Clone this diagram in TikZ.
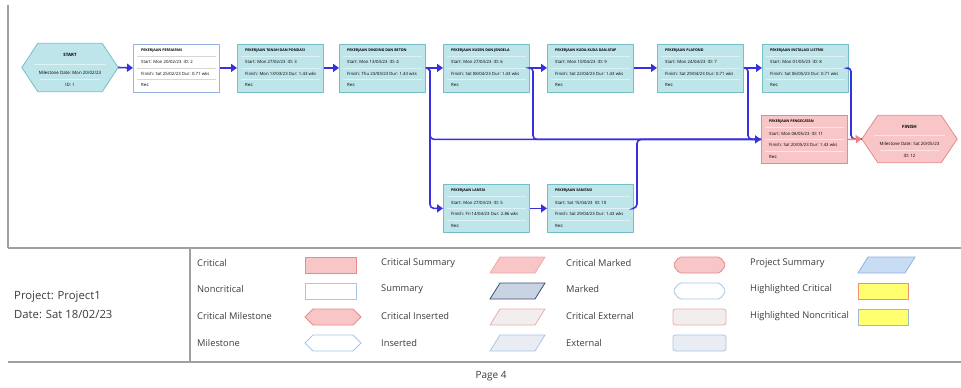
\documentclass[tikz,border=0pt]{standalone}
\usepackage{fontspec}
\setmainfont{Open Sans}
\usetikzlibrary{arrows.meta}
\definecolor{cyanfill}{RGB}{189,229,234}
\definecolor{cyanline}{RGB}{118,190,200}
\definecolor{cyansep}{RGB}{222,242,244}
\definecolor{pinkfill}{RGB}{248,198,198}
\definecolor{pinkline}{RGB}{232,138,138}
\definecolor{pinksep}{RGB}{252,228,228}
\definecolor{ncline}{RGB}{150,180,228}
\definecolor{graysep}{RGB}{215,215,215}
\definecolor{arrowblue}{RGB}{56,48,222}
\definecolor{critred}{RGB}{242,128,128}
\definecolor{framegray}{RGB}{160,160,160}
\definecolor{lgblue}{RGB}{166,198,230}
\definecolor{sumfill}{RGB}{200,212,228}
\definecolor{sumline}{RGB}{62,78,108}
\definecolor{insfill}{RGB}{242,238,238}
\definecolor{insline}{RGB}{240,168,168}
\definecolor{extfill}{RGB}{233,237,243}
\definecolor{psfill}{RGB}{200,220,244}
\definecolor{psline}{RGB}{140,180,228}
\definecolor{hlfill}{RGB}{255,255,112}
\definecolor{hlcrit}{RGB}{240,144,112}
\definecolor{hlnc}{RGB}{160,184,200}
\definecolor{textgray}{RGB}{60,60,60}
\newcommand\taskbox[9]{%
  \node[task, fill=#4, draw=#5, anchor=north west] (#1) at (#2,#3) {};
  \node[ttl] (#1-t) at ([shift={(8,7)}]#1.north west) {#6};
  \draw[draw=#9, line width=0.6pt] ([shift={(4,12.5)}]#1.north west) -- ([shift={(-4,12.5)}]#1.north east);
  \node[txt] (#1-s) at ([shift={(8,18.5)}]#1.north west) {#7};
  \draw[draw=#9, line width=0.6pt] ([shift={(4,24.5)}]#1.north west) -- ([shift={(-4,24.5)}]#1.north east);
  \node[txt] (#1-f) at ([shift={(8,30)}]#1.north west) {#8};
  \draw[draw=#9, line width=0.6pt] ([shift={(4,36)}]#1.north west) -- ([shift={(-4,36)}]#1.north east);
  \node[txt] (#1-r) at ([shift={(8,41.5)}]#1.north west) {Res:};
}
\tikzset{
  task/.style={rectangle, minimum width=86pt, minimum height=48pt, inner sep=0pt, line width=0.8pt},
  ttl/.style={anchor=west, inner sep=0pt, font=\fontsize{3.6}{4}\selectfont\bfseries},
  txt/.style={anchor=west, inner sep=0pt, font=\fontsize{4.3}{5}\selectfont},
  hexcore/.style={rectangle, minimum width=64pt, minimum height=48pt, inner sep=0pt},
  conn/.style={draw=arrowblue, line width=1.6pt, rounded corners=4pt, -{Triangle[length=6pt,width=8pt]}},
  connplain/.style={draw=arrowblue, line width=1.6pt, rounded corners=4pt},
  critconn/.style={draw=critred, line width=1.6pt, -{Triangle[length=6pt,width=8pt]}},
  frame/.style={draw=framegray, line width=1.3pt},
  lgtxt/.style={anchor=west, inner sep=0pt, font=\fontsize{9.3}{11}\selectfont, text=textgray},
}
\begin{document}
\begin{tikzpicture}[x=1pt, y=-1pt]
\useasboundingbox (0,0) rectangle (961,388);
\fill[white] (0,0) rectangle (961,388);
% frame
\draw[frame] (8,5) -- (8,248);
\draw[frame] (8,248) -- (961,248);
\draw[frame] (8,362) -- (961,362);
\draw[frame] (190,248) -- (190,362);
% START hexagon
\node[hexcore] (start) at (70,67.5) {};
\coordinate (start-l) at ([xshift=-16pt]start.west);
\coordinate (start-r) at ([xshift=16pt]start.east);
\filldraw[fill=cyanfill, draw=cyanline, line width=0.8pt] (start.north west) -- (start.north east) -- (start-r) -- (start.south east) -- (start.south west) -- (start-l) -- cycle;
\node[inner sep=0pt, font=\fontsize{4.4}{5}\selectfont\bfseries] (start-t) at (70,55) {START};
\draw[cyansep, line width=0.6pt] (34,64) -- (106,64);
\node[inner sep=0pt, font=\fontsize{4.4}{5}\selectfont] (start-m) at (70,73) {Milestone Date: Mon 20/02/23};
\draw[cyansep, line width=0.6pt] (40,79) -- (100,79);
\node[inner sep=0pt, font=\fontsize{4.4}{5}\selectfont] (start-i) at (70,85) {ID: 1};
% FINISH hexagon
\node[hexcore, minimum height=47pt, minimum width=63pt] (fin) at (909.5,139) {};
\coordinate (fin-l) at ([xshift=-16pt]fin.west);
\coordinate (fin-r) at ([xshift=16pt]fin.east);
\filldraw[fill=pinkfill, draw=pinkline, line width=0.8pt] (fin.north west) -- (fin.north east) -- (fin-r) -- (fin.south east) -- (fin.south west) -- (fin-l) -- cycle;
\node[inner sep=0pt, font=\fontsize{4.4}{5}\selectfont\bfseries] (fin-t) at (909.5,127) {FINISH};
\draw[pinksep, line width=0.6pt] (874,135) -- (945,135);
\node[inner sep=0pt, font=\fontsize{4.4}{5}\selectfont] (fin-m) at (909.5,144) {Milestone Date: Sat 20/05/23};
\draw[pinksep, line width=0.6pt] (880,150) -- (939,150);
\node[inner sep=0pt, font=\fontsize{4.4}{5}\selectfont] (fin-i) at (909.5,156) {ID: 12};
% tasks
\taskbox{n2}{133}{43.5}{white}{ncline}{PEKERJAAN PERSIAPAN}{Start: Mon 20/02/23\enspace ID: 2}{Finish: Sat 25/02/23 Dur: 0.71 wks}{graysep}
\taskbox{n3}{237}{43.5}{cyanfill}{cyanline}{PEKERJAAN TANAH DAN PONDASI}{Start: Mon 27/02/23\enspace ID: 3}{Finish: Mon 13/03/23 Dur: 1.43 wks}{cyansep}
\taskbox{n4}{339}{43.5}{cyanfill}{cyanline}{PEKERJAAN DINDING DAN BETON}{Start: Mon 13/03/23\enspace ID: 4}{Finish: Thu 23/03/23 Dur: 1.43 wks}{cyansep}
\taskbox{n6}{443}{43.5}{cyanfill}{cyanline}{PEKERJAAN KUSEN DAN JENDELA}{Start: Mon 27/03/23\enspace ID: 6}{Finish: Sat 08/04/23 Dur: 1.43 wks}{cyansep}
\taskbox{n9}{547}{43.5}{cyanfill}{cyanline}{PEKERJAAN KUDA-KUDA DAN ATAP}{Start: Mon 10/04/23\enspace ID: 9}{Finish: Sat 22/04/23 Dur: 1.43 wks}{cyansep}
\taskbox{n7}{657}{43.5}{cyanfill}{cyanline}{PEKERJAAN PLAFOND}{Start: Mon 24/04/23\enspace ID: 7}{Finish: Sat 29/04/23 Dur: 0.71 wks}{cyansep}
\taskbox{n8}{762}{43.5}{cyanfill}{cyanline}{PEKERJAAN INSTALASI LISTRIK}{Start: Mon 01/05/23\enspace ID: 8}{Finish: Sat 06/05/23 Dur: 0.71 wks}{cyansep}
\taskbox{n11}{761}{115}{pinkfill}{pinkline}{PEKERJAAN PENGECATAN}{Start: Mon 08/05/23\enspace ID: 11}{Finish: Sat 20/05/23 Dur: 1.43 wks}{pinksep}
\taskbox{n5}{443}{184}{cyanfill}{cyanline}{PEKERJAAN LANTAI}{Start: Mon 27/03/23\enspace ID: 5}{Finish: Fri 14/04/23 Dur: 2.86 wks}{cyansep}
\taskbox{n10}{547}{184}{cyanfill}{cyanline}{PEKERJAAN SANITASI}{Start: Sat 15/04/23\enspace ID: 10}{Finish: Sat 29/04/23 Dur: 1.43 wks}{cyansep}
% junction coordinates
\coordinate (j4) at (430,67.5);
\coordinate (j6) at (533,67.5);
\coordinate (j10) at (637,208);
\coordinate (j7) at (748,67.5);
\coordinate (j8) at (851,67.5);
% connectors
\draw[connplain] (n4.east) -- (j4) |- (n11.west);
\draw[connplain] (n6.east) -- (j6) |- (n11.west);
\draw[connplain] (n10.east) -- (j10) |- (n11.west);
\draw[conn] (n7.east) -- (j7) |- (n11.west);
\draw[connplain] (n8.east) -- (j8) |- (fin-l);
\draw[conn] (n4.east) -- (j4) |- (n5.west);
\draw[conn] (start-r) -- (n2.west);
\draw[conn] (n2.east) -- (n3.west);
\draw[conn] (n3.east) -- (n4.west);
\draw[conn] (n4.east) -- (n6.west);
\draw[conn] (n6.east) -- (n9.west);
\draw[conn] (n9.east) -- (n7.west);
\draw[conn] (n7.east) -- (n8.west);
\draw[conn] (n5.east) -- (n10.west);
\draw[critconn] (n11.east) -- (fin-l);
% project info
\node[anchor=west, inner sep=0pt, font=\fontsize{11.3}{13}\selectfont, text=textgray] (proj) at (14,297) {Project: Project1};
\node[anchor=west, inner sep=0pt, font=\fontsize{11.3}{13}\selectfont, text=textgray] (date) at (14,314) {Date: Sat 18/02/23};
\node[inner sep=0pt, font=\fontsize{10}{12}\selectfont, text=textgray] (page) at (491,376) {Page 4};
% legend labels
\node[lgtxt] (l1) at (197,263) {Critical};
\node[lgtxt] (l2) at (197,289) {Noncritical};
\node[lgtxt] (l3) at (197,316) {Critical Milestone};
\node[lgtxt] (l4) at (197,343) {Milestone};
\node[lgtxt] (l5) at (381,263) {Critical Summary};
\node[lgtxt] (l6) at (381,289) {Summary};
\node[lgtxt] (l7) at (381,316) {Critical Inserted};
\node[lgtxt] (l8) at (381,343) {Inserted};
\node[lgtxt] (l9) at (566,263) {Critical Marked};
\node[lgtxt] (l10) at (566,289) {Marked};
\node[lgtxt] (l11) at (566,316) {Critical External};
\node[lgtxt] (l12) at (566,343) {External};
\node[lgtxt] (l13) at (750,263) {Project Summary};
\node[lgtxt] (l14) at (750,289) {Highlighted Critical};
\node[lgtxt] (l15) at (750,316) {Highlighted Noncritical};
% legend symbols col1
\filldraw[fill=pinkfill, draw=pinkline, line width=0.8pt] (305,257) rectangle (356,273);
\filldraw[fill=white, draw=lgblue, line width=0.8pt] (305,283) rectangle (356,299);
\filldraw[fill=pinkfill, draw=pinkline, line width=0.8pt] (305,317) -- (313,309) -- (353,309) -- (361,317) -- (353,325) -- (313,325) -- cycle;
\filldraw[fill=white, draw=lgblue, line width=0.8pt] (305,343) -- (313,335) -- (353,335) -- (361,343) -- (353,351) -- (313,351) -- cycle;
% col2 parallelograms
\filldraw[fill=pinkfill, draw=insline, line width=0.8pt] (490,273) -- (500,257) -- (545,257) -- (535,273) -- cycle;
\filldraw[fill=sumfill, draw=sumline, line width=0.8pt] (490,299) -- (500,283) -- (545,283) -- (535,299) -- cycle;
\filldraw[fill=insfill, draw=insline, line width=0.8pt] (490,325) -- (500,309) -- (545,309) -- (535,325) -- cycle;
\filldraw[fill=extfill, draw=lgblue, line width=0.8pt] (490,351) -- (500,335) -- (545,335) -- (535,351) -- cycle;
% col3
\filldraw[fill=pinkfill, draw=pinkline, line width=0.8pt, rounded corners=2pt] (673,265) -- (679,257) -- (720,257) -- (726,265) -- (720,273) -- (679,273) -- cycle;
\filldraw[fill=white, draw=lgblue, line width=0.8pt, rounded corners=2pt] (673,291) -- (679,283) -- (720,283) -- (726,291) -- (720,299) -- (679,299) -- cycle;
\filldraw[fill=insfill, draw=insline, line width=0.8pt, rounded corners=2.5pt] (673,309) rectangle (726,325);
\filldraw[fill=extfill, draw=lgblue, line width=0.8pt, rounded corners=2.5pt] (673,335) rectangle (726,351);
% col4
\filldraw[fill=psfill, draw=psline, line width=0.8pt] (858,273) -- (868,257) -- (915,257) -- (905,273) -- cycle;
\filldraw[fill=hlfill, draw=hlcrit, line width=0.8pt] (858,283) rectangle (908,299);
\filldraw[fill=hlfill, draw=hlnc, line width=0.8pt] (858,309) rectangle (908,325);
\end{tikzpicture}
\end{document}
